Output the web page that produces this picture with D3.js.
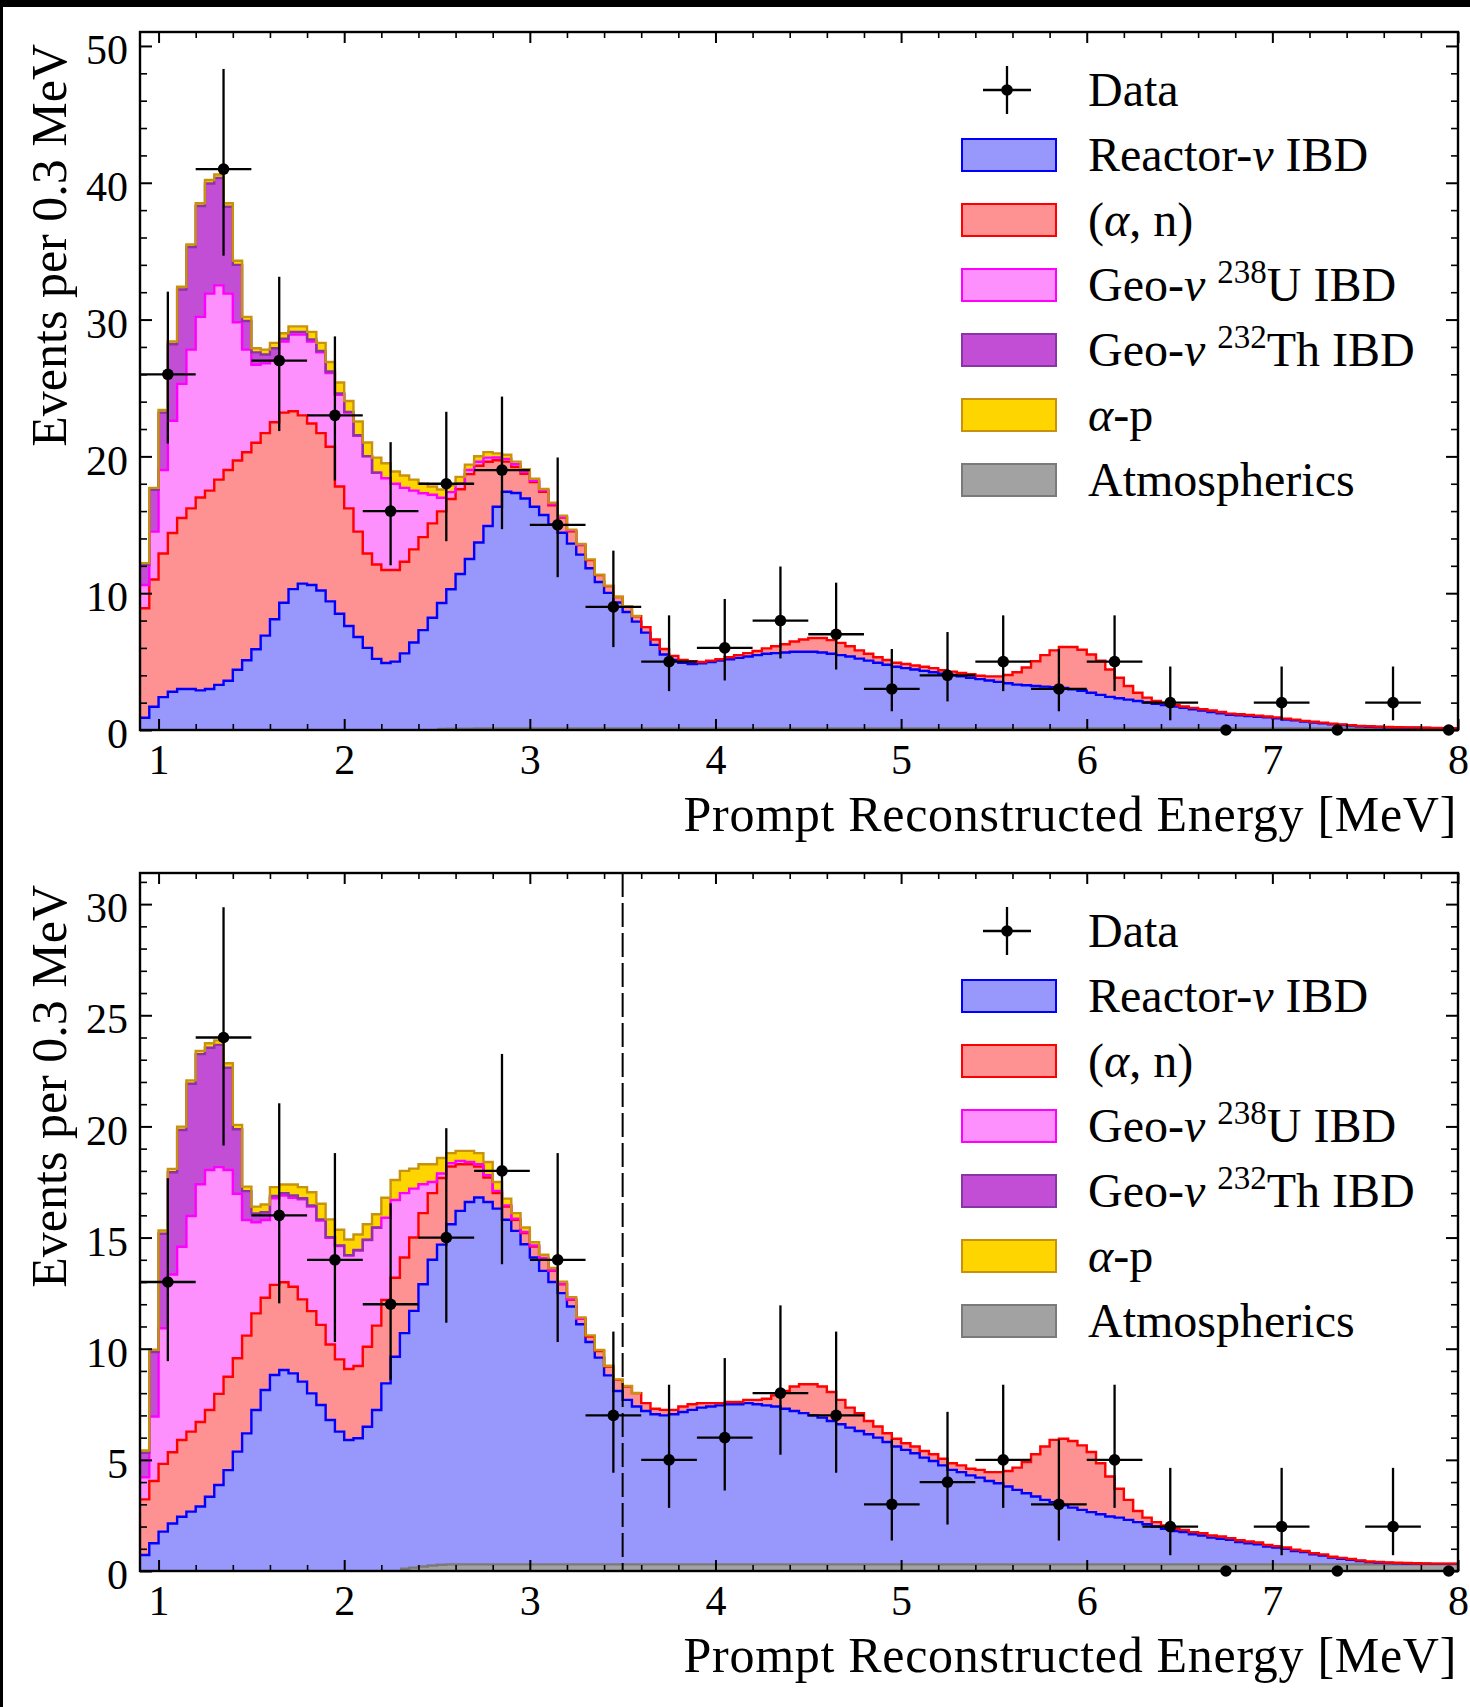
<!DOCTYPE html>
<html>
<head>
<meta charset="utf-8">
<script src="https://cdn.jsdelivr.net/npm/d3@7"></script>
<style>
  body { margin: 0; background: #fff; }
  svg { display: block; }
  text { font-family: "Liberation Serif", "Times New Roman", serif; fill: #000; }
</style>
</head>
<body>
<svg id="chart" width="1470" height="1707"></svg>
<script>
// fine histogram bins: 0.05 MeV starting at 0.9 MeV
const binStart = 0.9;
const binWidth = 0.05;

// data points (0.3 MeV bins)
const dataEnergy = [1.05, 1.35, 1.65, 1.95, 2.25, 2.55, 2.85, 3.15, 3.45, 3.75, 4.05, 4.35,
  4.65, 4.95, 5.25, 5.55, 5.85, 6.15, 6.45, 6.75, 7.05, 7.35, 7.65, 7.95];
const topCounts = [26, 41, 27, 23, 16, 18, 19, 15, 9, 5, 6, 8, 7, 3, 4, 5, 3, 5, 2, 0, 2, 0, 2, 0];
const botCounts = [13, 24, 16, 14, 12, 15, 18, 14, 7, 5, 6, 8, 7, 3, 4, 5, 3, 5, 2, 0, 2, 0, 2, 0];

// poisson (garwood) intervals for the counts seen
const intervalCounts = [0, 2, 3, 4, 5, 6, 7, 8, 9, 12, 13, 14, 15, 16, 18, 19, 23, 24, 26, 27, 41];
const intervalLow = [0, 0.71, 1.37, 2.09, 2.84, 3.62, 4.42, 5.23, 6.06, 8.59, 9.44, 10.3, 11.17,
  12.04, 13.8, 14.68, 18.24, 19.14, 20.94, 21.85, 34.67];
const intervalHigh = [1.84, 4.64, 5.92, 7.16, 8.38, 9.58, 10.77, 11.95, 13.11, 16.54, 17.67, 18.8,
  19.92, 21.04, 23.26, 24.37, 28.77, 29.86, 32.04, 33.13, 48.32];

// ---- top panel components (events per fine bin, as stacked) ----
const topReactor = [0.9, 1.7, 2.4, 2.8, 3.0, 3.0, 2.9, 3.0, 3.3, 3.6,
  4.4, 5.1, 5.9, 6.9, 8.1, 9.3, 10.3, 10.7, 10.6, 10.2,
  9.4, 8.5, 7.6, 6.8, 6.0, 5.2, 4.9, 5.0, 5.6, 6.4,
  7.3, 8.2, 9.2, 10.2, 11.3, 12.4, 13.6, 14.8, 16.2, 17.3,
  17.2, 16.8, 16.2, 15.6, 14.9, 14.3, 13.5, 12.7, 11.7, 10.7,
  9.9, 9.2, 8.5, 7.8, 7.0, 6.1, 5.4, 5.0, 4.8, 4.7,
  4.75, 4.85, 4.95, 5.05, 5.15, 5.25, 5.35, 5.45, 5.5, 5.55,
  5.6, 5.6, 5.6, 5.55, 5.45, 5.35, 5.25, 5.1, 4.95, 4.8,
  4.65, 4.5, 4.4, 4.3, 4.2, 4.1, 4.0, 3.9, 3.8, 3.7,
  3.6, 3.5, 3.4, 3.3, 3.2, 3.15, 3.1, 3.05, 3.0, 2.95,
  2.85, 2.75, 2.6, 2.45, 2.3, 2.2, 2.1, 2.0, 1.9, 1.8,
  1.7, 1.6, 1.5, 1.4, 1.3, 1.2, 1.1, 1.0, 0.95, 0.9,
  0.85, 0.8, 0.73, 0.65, 0.58, 0.5, 0.43, 0.37, 0.3, 0.25,
  0.2, 0.15, 0.12, 0.1, 0.08, 0.06, 0.05, 0.04, 0.03, 0.02,
  0.02, 0.01];
const topAlphaN = [8.0, 9.3, 10.5, 11.6, 12.5, 13.2, 14.1, 14.5, 15.0, 15.4,
  15.3, 15.2, 15.1, 14.8, 14.4, 13.9, 13.0, 12.3, 11.8, 11.5,
  11.3, 9.3, 8.6, 7.7, 6.9, 6.9, 6.8, 6.7, 6.7, 6.8,
  6.8, 6.9, 6.7, 6.6, 6.2, 6.2, 5.6, 4.7, 3.4, 2.2,
  1.9, 1.8, 1.8, 1.7, 1.4, 1.1, 0.9, 0.7, 0.6, 0.5,
  0.5, 0.4, 0.4, 0.4, 0.4, 0.4, 0.4, 0.3, 0.2, 0.2,
  0.1, 0.1, 0.1, 0.15, 0.2, 0.25, 0.3, 0.4, 0.5, 0.6,
  0.75, 0.9, 1.0, 1.05, 1.0, 0.9, 0.75, 0.6, 0.5, 0.4,
  0.35, 0.3, 0.3, 0.3, 0.3, 0.3, 0.25, 0.25, 0.25, 0.25,
  0.25, 0.3, 0.4, 0.6, 0.9, 1.3, 1.8, 2.3, 2.7, 3.0,
  3.1, 3.0, 2.8, 2.5, 2.0, 1.5, 1.0, 0.6, 0.35, 0.2,
  0.15, 0.1, 0.1, 0.1, 0.1, 0.1, 0.1, 0.08, 0.08, 0.08,
  0.08, 0.07, 0.07, 0.06, 0.06, 0.05, 0.05, 0.05, 0.04, 0.04,
  0.04, 0.03, 0.03, 0.03, 0.02, 0.02, 0.02, 0.02, 0.01, 0.01,
  0.01, 0.01];
const topGeoU = [1.7, 3.5, 6.1, 8.2, 9.8, 11.6, 13.2, 14.4, 14.2, 12.9,
  10.1, 7.5, 5.7, 5.1, 4.5, 5.2, 5.6, 5.9, 6.0, 5.9,
  5.4, 6.7, 7.0, 7.0, 7.1, 6.7, 6.7, 6.3, 5.4, 4.3,
  3.2, 2.1, 1.0, 0.5, 0.4, 0.3, 0.3, 0.3, 0.2, 0.2,
  0.2, 0.15, 0.1, 0.1, 0.1, 0.05, 0.05, 0.02];
const topGeoTh = [1.5, 3.05, 4.2, 5.6, 6.9, 7.5, 8.1, 8.05, 7.85, 6.35,
  4.2, 2.1, 0.9, 0.65, 0.9, 0.2, 0.2, 0.2, 0.15, 0.1,
  0.1, 0.1, 0.05, 0.05, 0.02, 0.01];
const topAlphaP = [0.1, 0.15, 0.2, 0.2, 0.2, 0.2, 0.2, 0.25, 0.25, 0.25,
  0.3, 0.3, 0.3, 0.35, 0.4, 0.4, 0.4, 0.4, 0.55, 0.6,
  0.7, 0.8, 0.8, 1.0, 1.0, 1.1, 1.1, 0.9, 0.9, 0.8,
  0.7, 0.6, 0.6, 0.5, 0.5, 0.4, 0.4, 0.4, 0.3, 0.3,
  0.2, 0.2, 0.15, 0.1, 0.1, 0.1, 0.08, 0.06, 0.05, 0.04,
  0.03, 0.02, 0.02, 0.01];
// starts at 2.5 MeV
const topAtmos = [0.08, 0.09, 0.1, 0.1, 0.11, 0.11, 0.12, 0.12, 0.12, 0.12,
  0.12, 0.12, 0.12, 0.12, 0.12, 0.12, 0.12, 0.12, 0.12, 0.12,
  0.12, 0.12, 0.12, 0.12, 0.12, 0.12, 0.12, 0.12, 0.12, 0.12,
  0.12, 0.12, 0.12, 0.12, 0.12, 0.12, 0.12, 0.12, 0.12, 0.12,
  0.12, 0.12, 0.12, 0.12, 0.12, 0.12, 0.12, 0.12, 0.12, 0.12,
  0.12, 0.12, 0.12, 0.12, 0.12, 0.12, 0.12, 0.12, 0.12, 0.12,
  0.12, 0.12, 0.12, 0.12, 0.12, 0.12, 0.12, 0.12, 0.12, 0.12,
  0.12, 0.12, 0.12, 0.12, 0.12, 0.12, 0.12, 0.12, 0.12, 0.12,
  0.12, 0.12, 0.12, 0.12, 0.12, 0.12, 0.12, 0.12, 0.12, 0.12,
  0.12, 0.12, 0.12, 0.12, 0.12, 0.12, 0.12, 0.12, 0.12, 0.12,
  0.12, 0.12, 0.12, 0.12, 0.12, 0.12, 0.12, 0.12, 0.12, 0.12];

// ---- bottom panel components ----
const botReactor = [0.72, 1.25, 1.77, 2.14, 2.44, 2.67, 2.9, 3.34, 3.87, 4.54,
  5.37, 6.19, 7.24, 8.14, 8.82, 9.04, 8.89, 8.52, 7.99, 7.47,
  6.79, 6.27, 5.89, 5.97, 6.49, 7.24, 8.44, 9.64, 10.6, 11.55,
  12.7, 13.75, 14.4, 15.3, 15.9, 16.3, 16.5, 16.3, 16.0, 15.5,
  15.0, 14.4, 13.8, 13.2, 12.7, 12.2, 11.6, 10.8, 10.0, 9.3,
  8.5, 7.8, 7.4, 7.1, 6.9, 6.75, 6.7, 6.75, 6.85, 6.95,
  7.05, 7.1, 7.15, 7.2, 7.2, 7.25, 7.2, 7.15, 7.1, 7.0,
  6.9, 6.8, 6.7, 6.6, 6.45, 6.3, 6.15, 6.0, 5.85, 5.7,
  5.5, 5.3, 5.15, 5.0, 4.8, 4.65, 4.45, 4.25, 4.15, 4.0,
  3.9, 3.75, 3.65, 3.5, 3.35, 3.2, 3.05, 2.9, 2.8, 2.65,
  2.55, 2.45, 2.35, 2.25, 2.15, 2.1, 2.0, 1.9, 1.8, 1.7,
  1.6, 1.5, 1.45, 1.35, 1.3, 1.2, 1.15, 1.1, 1.0, 0.95,
  0.9, 0.8, 0.75, 0.7, 0.6, 0.55, 0.45, 0.4, 0.3, 0.25,
  0.2, 0.15, 0.1, 0.08, 0.06, 0.05, 0.04, 0.03, 0.03, 0.02,
  0.02, 0.02];
const botAlphaN = [2.5, 2.8, 3.05, 3.2, 3.45, 3.6, 3.8, 3.9, 4.1, 4.2,
  4.2, 4.4, 4.35, 4.15, 4.05, 3.95, 3.9, 3.7, 3.7, 3.6,
  3.4, 3.25, 3.2, 3.25, 3.6, 3.8, 3.75, 3.55, 3.4, 3.3,
  3.2, 3.0, 3.0, 2.6, 2.1, 1.7, 1.4, 1.1, 0.7, 0.6,
  0.5, 0.5, 0.5, 0.55, 0.5, 0.4, 0.3, 0.25, 0.25, 0.3,
  0.4, 0.5, 0.6, 0.6, 0.35, 0.25, 0.25, 0.2, 0.25, 0.25,
  0.2, 0.15, 0.1, 0.1, 0.1, 0.15, 0.2, 0.3, 0.5, 0.8,
  1.1, 1.3, 1.4, 1.4, 1.3, 1.1, 0.9, 0.8, 0.6, 0.5,
  0.4, 0.35, 0.3, 0.3, 0.3, 0.3, 0.3, 0.3, 0.3, 0.3,
  0.35, 0.4, 0.5, 0.7, 1.0, 1.4, 1.9, 2.4, 2.8, 3.0,
  3.0, 2.9, 2.7, 2.3, 1.8, 1.3, 0.9, 0.5, 0.3, 0.2,
  0.15, 0.1, 0.1, 0.1, 0.1, 0.1, 0.1, 0.08, 0.08, 0.08,
  0.08, 0.07, 0.07, 0.06, 0.06, 0.05, 0.05, 0.05, 0.04, 0.04,
  0.04, 0.03, 0.03, 0.03, 0.02, 0.02, 0.02, 0.02, 0.01, 0.01,
  0.01, 0.01];
const botGeoU = [1.0, 2.9, 6.1, 8.0, 8.7, 9.7, 10.7, 10.8, 10.2, 9.3,
  7.4, 5.2, 4.1, 3.5, 3.9, 3.9, 4.0, 4.5, 4.7, 4.7,
  4.8, 5.1, 5.1, 5.2, 4.8, 4.4, 3.7, 3.5, 2.9, 2.2,
  1.3, 0.5, 0.2, 0.15, 0.15, 0.1, 0.1, 0.1, 0.1, 0.05,
  0.05, 0.05, 0.04, 0.03, 0.03, 0.02, 0.02, 0.01];
const botGeoTh = [1.1, 2.9, 4.25, 4.6, 5.25, 5.95, 5.85, 5.5, 5.5, 4.6,
  2.9, 1.3, 0.4, 0.35, 0.1, 0.1, 0.1, 0.05, 0.05, 0.05,
  0.03, 0.03, 0.02, 0.02, 0.01, 0.01];
const botAlphaP = [0.1, 0.1, 0.15, 0.15, 0.15, 0.15, 0.15, 0.2, 0.2, 0.2,
  0.2, 0.2, 0.3, 0.35, 0.4, 0.4, 0.5, 0.5, 0.6, 0.7,
  0.8, 0.7, 0.7, 0.7, 0.7, 0.6, 0.9, 0.9, 1.0, 0.9,
  0.9, 0.8, 0.7, 0.45, 0.45, 0.5, 0.5, 0.6, 0.4, 0.3,
  0.25, 0.2, 0.15, 0.15, 0.1, 0.1, 0.1, 0.05, 0.05, 0.04,
  0.03, 0.02, 0.02, 0.01];
// starts at 2.3 MeV
const botAtmos = [0.1, 0.15, 0.2, 0.25, 0.28, 0.3, 0.3, 0.3, 0.3, 0.3,
  0.3, 0.3, 0.3, 0.3, 0.3, 0.3, 0.3, 0.3, 0.3, 0.3,
  0.3, 0.3, 0.3, 0.3, 0.3, 0.3, 0.3, 0.3, 0.3, 0.3,
  0.3, 0.3, 0.3, 0.3, 0.3, 0.3, 0.3, 0.3, 0.3, 0.3,
  0.3, 0.3, 0.3, 0.3, 0.3, 0.3, 0.3, 0.3, 0.3, 0.3,
  0.3, 0.3, 0.3, 0.3, 0.3, 0.3, 0.3, 0.3, 0.3, 0.3,
  0.3, 0.3, 0.3, 0.3, 0.3, 0.3, 0.3, 0.3, 0.3, 0.3,
  0.3, 0.3, 0.3, 0.3, 0.3, 0.3, 0.3, 0.3, 0.3, 0.3,
  0.3, 0.3, 0.3, 0.3, 0.3, 0.3, 0.3, 0.3, 0.3, 0.3,
  0.3, 0.3, 0.3, 0.3, 0.3, 0.3, 0.3, 0.3, 0.3, 0.3,
  0.3, 0.3, 0.3, 0.3, 0.3, 0.3, 0.3, 0.3, 0.3, 0.3,
  0.3, 0.3, 0.3, 0.3];

const styles = {
  atmos:   { fill: "#a2a2a2", edge: "#7a7a7a" },
  reactor: { fill: "#9898fc", edge: "#0000ff" },
  alphaN:  { fill: "#fe9191", edge: "#ff0000" },
  geoU:    { fill: "#fd90fd", edge: "#ff00ff" },
  geoTh:   { fill: "#c34ed6", edge: "#8a35a6" },
  alphaP:  { fill: "#ffd500", edge: "#c8920e" }
};

const panels = [
  {
    top: 32, yMax: 51.02, yMajor: [0, 10, 20, 30, 40, 50], yMinorStep: 2,
    counts: topCounts, cut: null,
    layers: [
      { key: "atmos", start: 32, values: topAtmos },
      { key: "reactor", start: 0, values: topReactor },
      { key: "alphaN", start: 0, values: topAlphaN },
      { key: "geoU", start: 0, values: topGeoU },
      { key: "geoTh", start: 0, values: topGeoTh },
      { key: "alphaP", start: 0, values: topAlphaP }
    ]
  },
  {
    top: 873, yMax: 31.4, yMajor: [0, 5, 10, 15, 20, 25, 30], yMinorStep: 1,
    counts: botCounts, cut: 3.5,
    layers: [
      { key: "atmos", start: 28, values: botAtmos },
      { key: "reactor", start: 0, values: botReactor },
      { key: "alphaN", start: 0, values: botAlphaN },
      { key: "geoU", start: 0, values: botGeoU },
      { key: "geoTh", start: 0, values: botGeoTh },
      { key: "alphaP", start: 0, values: botAlphaP }
    ]
  }
];

const legendItems = [
  { type: "data", parts: [["Data"]] },
  { key: "reactor", parts: [["Reactor-"], ["ν", "i"], [" IBD"]] },
  { key: "alphaN", parts: [["("], ["α", "i"], [", n)"]] },
  { key: "geoU", parts: [["Geo-"], ["ν", "i"], [" "], ["238", "sup"], ["U IBD"]] },
  { key: "geoTh", parts: [["Geo-"], ["ν", "i"], [" "], ["232", "sup"], ["Th IBD"]] },
  { key: "alphaP", parts: [["α", "i"], ["-p"]] },
  { key: "atmos", parts: [["Atmospherics"]] }
];

const W = 1470, H = 1707;
const plotLeft = 140, plotRight = 1458, plotHeight = 698;
const nBins = 142;
const svg = d3.select("#chart");

svg.append("rect").attr("width", W).attr("height", H).attr("fill", "#fff");
svg.append("rect").attr("width", W).attr("height", 7).attr("fill", "#000");
svg.append("rect").attr("width", 3).attr("height", H).attr("fill", "#000");

const x = d3.scaleLinear().domain([0.9, 8.0]).range([plotLeft, plotRight]);
const edgeE = i => binStart + binWidth * i;

const xMinor = d3.range(1.2, 8.0, 0.2).filter(v => Math.abs(v - Math.round(v)) > 0.01);

function drawPanel(p, idx) {
  const bottom = p.top + plotHeight;
  const y = d3.scaleLinear().domain([0, p.yMax]).range([bottom, p.top]);
  const g = svg.append("g");

  const clipId = "clip" + idx;
  svg.append("clipPath").attr("id", clipId)
    .append("rect")
    .attr("x", plotLeft).attr("y", p.top)
    .attr("width", plotRight - plotLeft).attr("height", plotHeight);
  const plot = g.append("g").attr("clip-path", `url(#${clipId})`);

  // stack the components bin by bin
  let base = new Array(nBins).fill(0);
  const stacked = p.layers.map(L => {
    const lo = base.slice();
    const hi = base.slice();
    L.values.forEach((v, k) => { hi[L.start + k] += v; });
    base = hi;
    const end = L.start + L.values.length;
    const pts = [];
    for (let i = L.start; i < end; i++) pts.push({ e: edgeE(i), lo: lo[i], hi: hi[i] });
    pts.push({ e: edgeE(end), lo: lo[end - 1], hi: hi[end - 1] });
    return { key: L.key, pts };
  });

  const area = d3.area().curve(d3.curveStepAfter)
    .x(d => x(d.e)).y0(d => y(d.lo)).y1(d => y(d.hi));
  const line = d3.line().curve(d3.curveStepAfter)
    .x(d => x(d.e)).y(d => y(d.hi));

  stacked.forEach(s => {
    plot.append("path").attr("d", area(s.pts))
      .attr("fill", styles[s.key].fill).attr("stroke", "none");
  });
  stacked.forEach(s => {
    plot.append("path").attr("d", line(s.pts))
      .attr("fill", "none").attr("stroke", styles[s.key].edge)
      .attr("stroke-width", 2.4).attr("stroke-linejoin", "miter");
  });

  if (p.cut !== null) {
    plot.append("line")
      .attr("x1", x(p.cut)).attr("x2", x(p.cut))
      .attr("y1", p.top).attr("y2", bottom)
      .attr("stroke", "#000").attr("stroke-width", 2)
      .attr("stroke-dasharray", "24,6");
  }

  // data points with error bars
  const pts = g.append("g");
  dataEnergy.forEach((e, k) => {
    const n = p.counts[k];
    const j = intervalCounts.indexOf(n);
    if (n > 0) {
      pts.append("line")
        .attr("x1", x(e - 0.15)).attr("x2", x(e + 0.15))
        .attr("y1", y(n)).attr("y2", y(n))
        .attr("stroke", "#000").attr("stroke-width", 2.3);
      pts.append("line")
        .attr("x1", x(e)).attr("x2", x(e))
        .attr("y1", y(intervalLow[j])).attr("y2", y(intervalHigh[j]))
        .attr("stroke", "#000").attr("stroke-width", 2.3);
    }
    pts.append("circle").attr("cx", x(e)).attr("cy", y(n)).attr("r", 5.8).attr("fill", "#000");
  });

  // frame
  g.append("rect")
    .attr("x", plotLeft).attr("y", p.top)
    .attr("width", plotRight - plotLeft).attr("height", plotHeight)
    .attr("fill", "none").attr("stroke", "#000").attr("stroke-width", 2.4);

  const yMinor = d3.range(0, p.yMax, p.yMinorStep).filter(v => p.yMajor.indexOf(v) < 0);

  const styleAxis = (sel, width) => {
    sel.select(".domain").remove();
    sel.selectAll("line").attr("stroke", "#000").attr("stroke-width", width);
    sel.selectAll("text").attr("font-size", 42).attr("fill", "#000")
      .attr("font-family", '"Liberation Serif", "Times New Roman", serif');
  };

  // x axes (bottom with labels, top mirrored)
  g.append("g").attr("transform", `translate(0,${bottom})`)
    .call(d3.axisBottom(x).tickValues(d3.range(1, 9)).tickSize(-11).tickPadding(14).tickFormat(d3.format("d")))
    .call(s => styleAxis(s, 2));
  g.append("g").attr("transform", `translate(0,${bottom})`)
    .call(d3.axisBottom(x).tickValues(xMinor).tickSize(-6).tickFormat(""))
    .call(s => styleAxis(s, 1.6));
  g.append("g").attr("transform", `translate(0,${p.top})`)
    .call(d3.axisTop(x).tickValues(d3.range(1, 9)).tickSize(-11).tickFormat(""))
    .call(s => styleAxis(s, 2));
  g.append("g").attr("transform", `translate(0,${p.top})`)
    .call(d3.axisTop(x).tickValues(xMinor).tickSize(-6).tickFormat(""))
    .call(s => styleAxis(s, 1.6));

  // y axes (left with labels, right mirrored)
  g.append("g").attr("transform", `translate(${plotLeft},0)`)
    .call(d3.axisLeft(y).tickValues(p.yMajor).tickSize(-12).tickPadding(12).tickFormat(d3.format("d")))
    .call(s => styleAxis(s, 2))
    .call(s => s.selectAll("text").attr("dy", "0.42em"));
  g.append("g").attr("transform", `translate(${plotLeft},0)`)
    .call(d3.axisLeft(y).tickValues(yMinor).tickSize(-7).tickFormat(""))
    .call(s => styleAxis(s, 1.6));
  g.append("g").attr("transform", `translate(${plotRight},0)`)
    .call(d3.axisRight(y).tickValues(p.yMajor).tickSize(-12).tickFormat(""))
    .call(s => styleAxis(s, 2));
  g.append("g").attr("transform", `translate(${plotRight},0)`)
    .call(d3.axisRight(y).tickValues(yMinor).tickSize(-7).tickFormat(""))
    .call(s => styleAxis(s, 1.6));

  // axis titles
  g.append("text")
    .attr("x", 1457).attr("y", bottom + 101)
    .attr("text-anchor", "end").attr("font-size", 50)
    .attr("letter-spacing", 0.7)
    .text("Prompt Reconstructed Energy [MeV]");
  g.append("text")
    .attr("transform", `translate(66,${p.top + 12}) rotate(-90)`)
    .attr("text-anchor", "end").attr("font-size", 50)
    .text("Events per 0.3 MeV");

  drawLegend(g, p.top);
}

function drawLegend(g, top) {
  const leg = g.append("g");
  const fontSize = 48;
  legendItems.forEach((item, k) => {
    const cy = top + 58 + 65 * k;
    if (item.type === "data") {
      leg.append("line").attr("x1", 983).attr("x2", 1031).attr("y1", cy).attr("y2", cy)
        .attr("stroke", "#000").attr("stroke-width", 2.3);
      leg.append("line").attr("x1", 1007).attr("x2", 1007).attr("y1", cy - 24).attr("y2", cy + 24)
        .attr("stroke", "#000").attr("stroke-width", 2.3);
      leg.append("circle").attr("cx", 1007).attr("cy", cy).attr("r", 5.8).attr("fill", "#000");
    } else {
      leg.append("rect").attr("x", 962).attr("y", cy - 16).attr("width", 94).attr("height", 32)
        .attr("fill", styles[item.key].fill)
        .attr("stroke", styles[item.key].edge).attr("stroke-width", 2);
    }
    const t = leg.append("text").attr("x", 1088).attr("y", cy + 16).attr("font-size", fontSize);
    let raised = false;
    item.parts.forEach(([str, kind]) => {
      const span = t.append("tspan").text(str);
      if (kind === "i") span.attr("font-style", "italic");
      if (kind === "sup") {
        span.attr("font-size", 33).attr("dy", -18);
        raised = true;
      } else if (raised) {
        span.attr("dy", 18);
        raised = false;
      }
    });
  });
}

panels.forEach(drawPanel);
</script>
</body>
</html>
